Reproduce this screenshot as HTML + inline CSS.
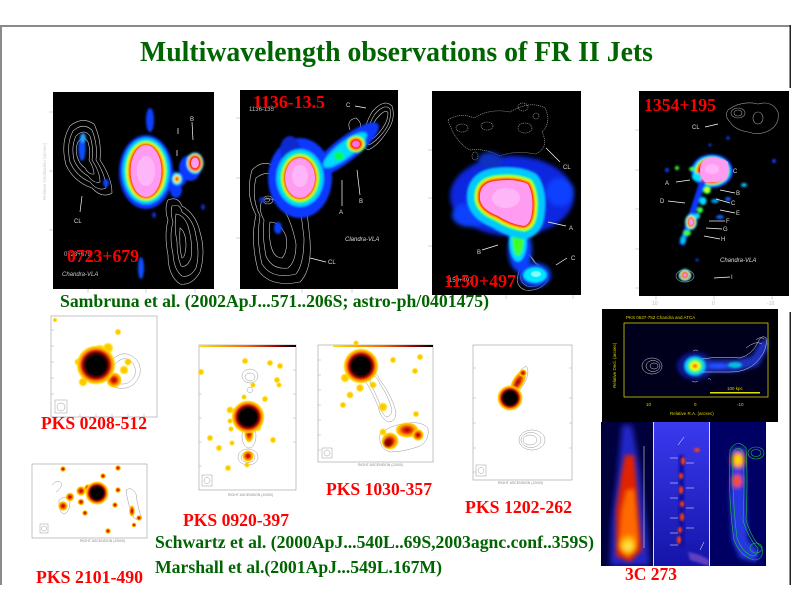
<!DOCTYPE html>
<html><head><meta charset="utf-8"><style>
html,body{margin:0;padding:0;background:#fff;}
svg{display:block;}
.t{font-family:"Liberation Serif",serif;font-weight:bold;}
.s{font-family:"Liberation Sans",sans-serif;}
</style></head><body>
<svg width="792" height="612" viewBox="0 0 792 612" xmlns="http://www.w3.org/2000/svg">
<defs>
<filter id="b1" x="-30%" y="-30%" width="160%" height="160%"><feGaussianBlur stdDeviation="1"/></filter>
<filter id="b2" x="-30%" y="-30%" width="160%" height="160%"><feGaussianBlur stdDeviation="2"/></filter>
<filter id="b3" x="-30%" y="-30%" width="160%" height="160%"><feGaussianBlur stdDeviation="3"/></filter>
<radialGradient id="hot"><stop offset="0" stop-color="#000"/><stop offset="0.48" stop-color="#000"/><stop offset="0.6" stop-color="#600000"/><stop offset="0.7" stop-color="#c82000"/><stop offset="0.8" stop-color="#ff8a00"/><stop offset="0.9" stop-color="#ffd000"/><stop offset="1" stop-color="#ffe600" stop-opacity="0"/></radialGradient>
<radialGradient id="h2"><stop offset="0" stop-color="#a00000"/><stop offset="0.35" stop-color="#e03000"/><stop offset="0.65" stop-color="#ffa000"/><stop offset="0.85" stop-color="#ffd000"/><stop offset="1" stop-color="#ffe600" stop-opacity="0"/></radialGradient>
<radialGradient id="ys"><stop offset="0" stop-color="#ffbf00"/><stop offset="0.6" stop-color="#ffd200"/><stop offset="1" stop-color="#ffe800" stop-opacity="0"/></radialGradient>
<linearGradient id="cb" x1="0" x2="1"><stop offset="0" stop-color="#ffe000"/><stop offset="0.5" stop-color="#ff6000"/><stop offset="0.8" stop-color="#a00000"/><stop offset="1" stop-color="#000"/></linearGradient>
<linearGradient id="bg2" x1="0" y1="0" x2="0" y2="1"><stop offset="0" stop-color="#3a3af0"/><stop offset="1" stop-color="#1414a8"/></linearGradient>
<clipPath id="c1"><rect x="53" y="92" width="161" height="197"/></clipPath>
<clipPath id="c2"><rect x="240" y="90" width="158" height="199"/></clipPath>
<clipPath id="c3"><rect x="432" y="91" width="149" height="204"/></clipPath>
<clipPath id="c4"><rect x="639" y="91" width="150" height="205"/></clipPath>
<clipPath id="c5"><rect x="602" y="309" width="176" height="113"/></clipPath>
<clipPath id="c6"><rect x="601" y="422" width="52" height="144"/></clipPath>
<clipPath id="c7"><rect x="654" y="422" width="55" height="144"/></clipPath>
<clipPath id="c8"><rect x="710" y="422" width="55" height="144"/></clipPath>
</defs>

<!-- frame -->
<rect x="0" y="25" width="791" height="2" fill="#8a8a8a"/>
<rect x="0" y="25" width="2" height="560" fill="#8a8a8a"/>
<rect x="789.5" y="25" width="1.5" height="63" fill="#222"/>
<rect x="789.5" y="312" width="1.5" height="273" fill="#222"/>

<text class="t" x="140" y="61" font-size="28" fill="#006400" textLength="513" lengthAdjust="spacingAndGlyphs">Multiwavelength observations of FR II Jets</text>

<!-- ============ Panel 1: 0723+679 ============ -->
<rect x="53" y="92" width="161" height="197" fill="#000"/>
<g stroke="#bbb" stroke-width="0.6">
<line x1="49" y1="112" x2="53" y2="112"/><line x1="49" y1="171" x2="53" y2="171"/><line x1="49" y1="230" x2="53" y2="230"/>
<line x1="88" y1="289" x2="88" y2="293"/><line x1="146" y1="289" x2="146" y2="293"/><line x1="195" y1="289" x2="195" y2="293"/>
</g>
<g clip-path="url(#c1)">
<g fill="none" stroke="#cfcfcf" stroke-width="0.6">
<path d="M70 126 Q82 116 94 124 Q102 140 100 160 Q112 178 112 193 Q102 199 92 188 Q74 182 66 165 Q60 142 70 126Z"/>
<path d="M73 131 Q83 122 92 130 Q98 145 96 160 Q106 176 106 188 Q98 192 90 182 Q76 176 70 162 Q66 144 73 131Z"/>
<path d="M76 136 Q84 128 90 136 Q94 148 92 160 Q100 172 100 182 Q94 184 88 176 Q78 170 74 160 Q71 146 76 136Z"/>
<path d="M78 142 Q84 135 88 142 Q91 152 89 160 Q94 168 94 174 Q89 175 85 168 Q79 164 77 156 Q75 148 78 142Z"/>
<path d="M168 200 Q178 196 182 206 Q196 214 200 232 Q206 252 200 272 Q192 286 180 284 Q168 276 168 255 Q164 235 168 220 Q164 208 168 200Z"/>
<path d="M172 206 Q180 203 182 212 Q194 220 196 236 Q200 254 196 268 Q190 278 182 276 Q174 270 173 254 Q169 236 173 222 Q170 212 172 206Z"/>
<path d="M176 214 Q184 215 188 226 Q193 242 191 258 Q187 268 181 266 Q177 256 177 242 Q174 228 176 214Z"/>
<path d="M180 228 Q186 232 186 246 Q185 258 182 258 Q179 248 180 228Z"/>
</g>
<g filter="url(#b1)">
<ellipse cx="150" cy="120" rx="4" ry="12" fill="#1040ff"/>
<ellipse cx="146" cy="172" rx="27" ry="37" fill="#0838ff"/>
<ellipse cx="170" cy="180" rx="16" ry="9" fill="#0838ff"/>
<ellipse cx="190" cy="168" rx="11" ry="13" fill="#0838ff"/>
<ellipse cx="176" cy="190" rx="6" ry="8" fill="#0838ff"/>
<ellipse cx="146" cy="171" rx="23.5" ry="33" fill="#00d8ff"/>
<ellipse cx="146" cy="171" rx="21" ry="30.5" fill="#00ff40"/>
<ellipse cx="146" cy="171" rx="19.5" ry="29" fill="#ffff00"/>
<ellipse cx="146" cy="171" rx="17.5" ry="27.5" fill="#ff0000"/>
<ellipse cx="177" cy="179" rx="5" ry="6" fill="#00e0ff"/>
<ellipse cx="177" cy="179" rx="3.5" ry="4" fill="#ffff00"/>
<ellipse cx="177" cy="179" rx="2" ry="2.5" fill="#ff2000"/>
<ellipse cx="195" cy="163" rx="8.5" ry="10.5" fill="#00e0ff"/>
<ellipse cx="195" cy="163" rx="7.5" ry="9" fill="#ffff00"/>
<ellipse cx="195" cy="163" rx="6.5" ry="8" fill="#ff0000"/>
<ellipse cx="82" cy="148" rx="3.5" ry="13" fill="#0a50ff"/>
<ellipse cx="83" cy="138" rx="3" ry="5" fill="#20a0ff"/>
<ellipse cx="106" cy="183" rx="3" ry="4" fill="#0a40ff"/>
<ellipse cx="141" cy="268" rx="3" ry="11" fill="#0a50ff"/>
<ellipse cx="203" cy="207" rx="2" ry="3" fill="#0a30c0"/>
<ellipse cx="154" cy="215" rx="2" ry="3" fill="#0a30c0"/>
</g>
<ellipse cx="146" cy="171" rx="15.5" ry="26" fill="#ff9cf2"/>
<ellipse cx="146" cy="171" rx="9" ry="15" fill="#ffb6f8"/>
<ellipse cx="195" cy="163" rx="4" ry="5.5" fill="#ff9cf2"/>
<g stroke="#fff" stroke-width="0.7" fill="none"><line x1="80" y1="212" x2="82" y2="196"/><line x1="192" y1="122" x2="193" y2="140"/><line x1="178" y1="128" x2="178" y2="134"/><line x1="177" y1="150" x2="177" y2="156"/></g>
<text class="s" x="74" y="223" font-size="6" fill="#ddd">CL</text>
<text class="s" x="190" y="121" font-size="6" fill="#ddd">B</text>
<text class="s" x="64" y="256" font-size="6" fill="#bbb">0723+679</text>
<text class="s" x="62" y="276" font-size="6" fill="#ccc" font-style="italic">Chandra-VLA</text>
</g>
<text class="s" transform="translate(46,200) rotate(-90)" font-size="4.5" fill="#ccc">Relative Declination (arcsec)</text>

<!-- ============ Panel 2: 1136-13.5 ============ -->
<rect x="240" y="90" width="158" height="199" fill="#000"/>
<g stroke="#bbb" stroke-width="0.6">
<line x1="236" y1="118" x2="240" y2="118"/><line x1="236" y1="178" x2="240" y2="178"/><line x1="236" y1="238" x2="240" y2="238"/>
<line x1="302" y1="289" x2="302" y2="293"/><line x1="352" y1="289" x2="352" y2="293"/>
</g>
<g clip-path="url(#c2)">
<g fill="none" stroke="#cfcfcf" stroke-width="0.6">
<path d="M252 170 Q262 160 272 165 Q290 150 300 160 Q306 200 310 240 Q312 270 300 282 Q270 288 258 270 Q250 240 256 215 Q245 195 252 170Z"/>
<path d="M256 178 Q266 170 276 176 Q290 166 296 176 Q300 205 304 238 Q304 264 296 274 Q272 280 262 264 Q256 240 260 216 Q251 198 256 178Z"/>
<path d="M262 200 Q274 196 282 206 Q292 222 296 244 Q296 262 288 268 Q272 270 266 256 Q262 236 264 220 Q258 210 262 200Z"/>
<path d="M270 222 Q280 222 286 236 Q288 252 282 258 Q274 258 271 246 Q268 232 270 222Z"/>
<ellipse cx="268" cy="200" rx="5" ry="4"/>
<ellipse cx="267" cy="200" rx="2.5" ry="2"/>
<path d="M372 112 Q384 98 392 106 Q396 118 388 130 Q378 146 368 150 Q360 146 364 134 Q366 122 372 112Z"/>
<path d="M375 114 Q385 103 390 109 Q392 120 385 130 Q377 141 369 145 Q365 140 368 132 Q370 121 375 114Z"/>
<path d="M378 117 Q386 108 388 113 Q388 121 382 129 Q376 137 372 139 Q370 134 372 128 Q374 121 378 117Z"/>
<path d="M350 130 Q346 120 356 118 Q364 124 358 132"/>
</g>
<g filter="url(#b1)">
<ellipse cx="300" cy="178" rx="32" ry="40" fill="#0838ff"/>
<ellipse cx="345" cy="150" rx="42" ry="12" transform="rotate(-38 345 150)" fill="#0838ff"/>
<ellipse cx="290" cy="150" rx="10" ry="14" fill="#0a2ad0"/>
<ellipse cx="278" cy="228" rx="4" ry="6" fill="#0a40ff"/>
<ellipse cx="262" cy="200" rx="3" ry="3" fill="#0a30c0"/>
<ellipse cx="345" cy="150" rx="27" ry="8" transform="rotate(-38 345 150)" fill="#00d8ff"/>
<ellipse cx="339" cy="156" rx="5" ry="4" fill="#00ff40"/>
<ellipse cx="356" cy="144" rx="9.5" ry="8.5" fill="#00ff40"/>
<ellipse cx="356" cy="144" rx="8" ry="7" fill="#ffff00"/>
<ellipse cx="356" cy="144" rx="6.5" ry="6" fill="#ff0000"/>
<ellipse cx="300" cy="178" rx="23.5" ry="28.5" fill="#00d8ff"/>
<ellipse cx="300" cy="178" rx="20" ry="25" fill="#00ff40"/>
<ellipse cx="300" cy="178" rx="18" ry="23" fill="#ffff00"/>
<ellipse cx="300" cy="178" rx="16.5" ry="21.5" fill="#ff0000"/>
</g>
<ellipse cx="300" cy="178" rx="15" ry="20" fill="#ff9cf2"/>
<ellipse cx="300" cy="176" rx="8" ry="11" fill="#ffb6f8"/>
<ellipse cx="356" cy="144" rx="4" ry="3.5" fill="#ff70e0"/>
<g stroke="#fff" stroke-width="0.7" fill="none"><line x1="342" y1="206" x2="342" y2="180"/><line x1="360" y1="195" x2="357" y2="170"/><line x1="355" y1="106" x2="366" y2="108"/><line x1="310" y1="258" x2="326" y2="262"/></g>
<text class="s" x="339" y="214" font-size="6" fill="#ddd">A</text>
<text class="s" x="359" y="203" font-size="6" fill="#ddd">B</text>
<text class="s" x="346" y="107" font-size="6" fill="#ddd">C</text>
<text class="s" x="328" y="264" font-size="6" fill="#ddd">CL</text>
<text class="s" x="345" y="241" font-size="6" fill="#ddd" font-style="italic">Clandra-VLA</text>
<text class="s" x="249" y="111" font-size="6" fill="#bbb">1136-135</text>
</g>

<!-- ============ Panel 3: 1150+497 ============ -->
<rect x="432" y="91" width="149" height="204" fill="#000"/>
<g stroke="#bbb" stroke-width="0.6">
<line x1="428" y1="150" x2="432" y2="150"/><line x1="428" y1="198" x2="432" y2="198"/><line x1="428" y1="246" x2="432" y2="246"/>
<line x1="506" y1="295" x2="506" y2="299"/><line x1="573" y1="295" x2="573" y2="299"/>
</g>
<g clip-path="url(#c3)">
<g fill="none" stroke="#aaa" stroke-width="0.6" stroke-dasharray="1.2 0.8">
<path d="M448 120 Q460 112 474 118 Q490 108 510 112 Q530 100 545 108 Q552 122 542 132 Q550 148 535 154 Q515 150 500 156 Q485 148 470 150 Q455 142 448 120Z"/>
<ellipse cx="462" cy="128" rx="6" ry="4"/><ellipse cx="523" cy="107" rx="5" ry="4"/><ellipse cx="536" cy="116" rx="3" ry="3"/>
<ellipse cx="525" cy="128" rx="7" ry="5"/><ellipse cx="487" cy="126" rx="6" ry="4"/><ellipse cx="475" cy="156" rx="3" ry="4"/>
</g>
<g fill="none" stroke="#bbb" stroke-width="0.6">
<path d="M519 245 Q530 254 534 262 Q546 268 548 280 Q540 292 525 290 Q515 286 518 275 Q522 262 515 250Z"/>
<path d="M522 248 Q532 256 536 264 Q544 270 544 280 Q538 288 527 286 Q519 282 521 274 Q525 262 519 252Z"/>
</g>
<g filter="url(#b2)">
<ellipse cx="512" cy="196" rx="62" ry="40" fill="#0828e0"/>
<ellipse cx="470" cy="215" rx="18" ry="12" fill="#0a40ff"/>
<ellipse cx="560" cy="192" rx="14" ry="14" fill="#0a40ff"/>
<ellipse cx="520" cy="250" rx="12" ry="22" fill="#0a40ff"/>
<ellipse cx="535" cy="275" rx="16" ry="12" fill="#0a40ff"/>
<ellipse cx="490" cy="160" rx="12" ry="8" fill="#0a30c0"/>
</g>
<g filter="url(#b1)">
<ellipse cx="518" cy="242" rx="9" ry="20" fill="#00d8ff"/>
<ellipse cx="535" cy="275" rx="12" ry="8" fill="#00e8ff"/>
<ellipse cx="518" cy="240" rx="5.5" ry="16" fill="#40ff20"/>
</g>
<g filter="url(#b1)" stroke-linejoin="round">
<path d="M480 200 Q478 184 494 181 Q515 178 528 184 Q534 195 532 212 Q531 224 524 226 Q510 224 498 216 Q482 210 480 200Z" fill="#00c8ff" stroke="#00c8ff" stroke-width="26"/>
<path d="M480 200 Q478 184 494 181 Q515 178 528 184 Q534 195 532 212 Q531 224 524 226 Q510 224 498 216 Q482 210 480 200Z" fill="#00ff40" stroke="#00ff40" stroke-width="12"/>
<path d="M480 200 Q478 184 494 181 Q515 178 528 184 Q534 195 532 212 Q531 224 524 226 Q510 224 498 216 Q482 210 480 200Z" fill="#ffff00" stroke="#ffff00" stroke-width="8"/>
<path d="M480 200 Q478 184 494 181 Q515 178 528 184 Q534 195 532 212 Q531 224 524 226 Q510 224 498 216 Q482 210 480 200Z" fill="#ff0000" stroke="#ff0000" stroke-width="4.5"/>
</g>
<path d="M480 200 Q478 184 494 181 Q515 178 528 184 Q534 195 532 212 Q531 224 524 226 Q510 224 498 216 Q482 210 480 200Z" fill="#ff9cf2"/>
<ellipse cx="506" cy="198" rx="14" ry="10" fill="#ffb6f8"/>
<ellipse cx="536" cy="274" rx="5" ry="3" fill="#80ffff"/>
<g stroke="#fff" stroke-width="0.7" fill="none"><line x1="546" y1="148" x2="560" y2="162"/><line x1="548" y1="222" x2="566" y2="226"/><line x1="482" y1="250" x2="498" y2="245"/><line x1="556" y1="265" x2="567" y2="258"/></g>
<text class="s" x="563" y="169" font-size="6" fill="#ddd">CL</text>
<text class="s" x="569" y="230" font-size="6" fill="#ddd">A</text>
<text class="s" x="477" y="254" font-size="6" fill="#ddd">B</text>
<text class="s" x="571" y="260" font-size="6" fill="#ddd">C</text>
<text class="s" x="446" y="282" font-size="6" fill="#bbb">1150+497</text>
</g>

<!-- ============ Panel 4: 1354+195 ============ -->
<rect x="639" y="91" width="150" height="205" fill="#000"/>
<g stroke="#bbb" stroke-width="0.6">
<line x1="635" y1="130" x2="639" y2="130"/><line x1="635" y1="170" x2="639" y2="170"/><line x1="635" y1="209" x2="639" y2="209"/><line x1="635" y1="249" x2="639" y2="249"/><line x1="635" y1="288" x2="639" y2="288"/>
<line x1="656" y1="296" x2="656" y2="300"/><line x1="714" y1="296" x2="714" y2="300"/><line x1="772" y1="296" x2="772" y2="300"/>
</g>
<text class="s" x="652" y="305" font-size="5" fill="#bbb">10</text>
<text class="s" x="712" y="305" font-size="5" fill="#bbb">0</text>
<text class="s" x="767" y="305" font-size="5" fill="#bbb">-10</text>
<g clip-path="url(#c4)">
<g fill="none" stroke="#999" stroke-width="0.6">
<path d="M728 110 Q742 100 758 104 Q772 100 778 112 Q780 124 770 130 Q760 136 748 132 Q735 130 730 122 Q724 116 728 110Z"/>
<ellipse cx="738" cy="113" rx="7" ry="5"/><ellipse cx="738" cy="113" rx="4" ry="3"/><ellipse cx="758" cy="118" rx="5" ry="6"/>
<ellipse cx="685" cy="276" rx="9" ry="6"/><ellipse cx="685" cy="276" rx="6" ry="4"/>
</g>
<g filter="url(#b1)">
<ellipse cx="712" cy="171" rx="21" ry="17" fill="#0838ff"/>
<ellipse cx="712" cy="171" rx="18.5" ry="15" fill="#00e0ff"/>
<ellipse cx="712" cy="171" rx="17" ry="14" fill="#00ff40"/>
<ellipse cx="712" cy="171" rx="16" ry="13.3" fill="#ffff00"/>
<ellipse cx="712" cy="171" rx="15" ry="12.6" fill="#ff0000"/>
<path d="M706 182 L684 246 L679 244 L700 180Z" fill="#0838ff"/>
<ellipse cx="707" cy="190" rx="4" ry="4" fill="#00ff40"/>
<ellipse cx="707" cy="190" rx="2" ry="2" fill="#ffff00"/>
<ellipse cx="703" cy="201" rx="3.5" ry="4" fill="#00e0ff"/>
<ellipse cx="700" cy="210" rx="3" ry="3" fill="#40ff40"/>
<ellipse cx="697" cy="216" rx="3" ry="3" fill="#00e0ff"/>
<ellipse cx="691" cy="222" rx="6" ry="8" fill="#00e0ff"/>
<ellipse cx="691" cy="222" rx="4.5" ry="6" fill="#ffff00"/>
<ellipse cx="691" cy="222" rx="3.5" ry="5" fill="#ff0000"/>
<ellipse cx="687" cy="233" rx="4" ry="3" fill="#40ff40"/>
<ellipse cx="683" cy="240" rx="3" ry="4" fill="#00c0ff"/>
<ellipse cx="685" cy="275" rx="6" ry="6" fill="#00e0ff"/>
<ellipse cx="685" cy="275" rx="4.5" ry="4.5" fill="#ffff00"/>
<ellipse cx="685" cy="275" rx="3.5" ry="3.5" fill="#ff0000"/>
<ellipse cx="697" cy="177" rx="5" ry="4" fill="#00e0ff"/>
<ellipse cx="692" cy="169" rx="3" ry="2" fill="#40ff40"/>
<ellipse cx="677" cy="168" rx="2" ry="2" fill="#40ff40"/>
<ellipse cx="667" cy="170" rx="2" ry="2" fill="#0a40ff"/>
<ellipse cx="744" cy="185" rx="3" ry="2" fill="#00c0ff"/>
<ellipse cx="715" cy="201" rx="4" ry="2" fill="#00a0ff"/>
<ellipse cx="720" cy="217" rx="4" ry="2" fill="#0a60ff"/>
<ellipse cx="728" cy="199" rx="3" ry="2" fill="#0a60ff"/>
<ellipse cx="774" cy="161" rx="2" ry="2" fill="#0a40ff"/>
<ellipse cx="728" cy="138" rx="1.5" ry="2" fill="#0a40ff"/>
<ellipse cx="710" cy="145" rx="1.5" ry="1.5" fill="#0a40ff"/>
<ellipse cx="697" cy="260" rx="1.5" ry="1.5" fill="#0a40ff"/>
</g>
<path d="M700 170 Q700 160 710 158 Q722 157 728 162 Q730 172 726 180 Q716 183 705 182 Q700 178 700 170Z" fill="#ff9cf2"/>
<ellipse cx="712" cy="169" rx="7" ry="5" fill="#ffb6f8"/>
<ellipse cx="691" cy="222" rx="2.2" ry="3.5" fill="#ff90f0"/>
<ellipse cx="685" cy="275" rx="1.8" ry="1.8" fill="#ff90f0"/>
<g stroke="#fff" stroke-width="0.7" fill="none">
<line x1="705" y1="127" x2="718" y2="124"/><line x1="676" y1="182" x2="690" y2="180"/><line x1="735" y1="193" x2="720" y2="190"/><line x1="730" y1="203" x2="716" y2="199"/>
<line x1="668" y1="201" x2="685" y2="203"/><line x1="735" y1="213" x2="720" y2="210"/><line x1="725" y1="221" x2="709" y2="221"/><line x1="722" y1="229" x2="706" y2="228"/><line x1="720" y1="239" x2="704" y2="236"/><line x1="730" y1="277" x2="714" y2="278"/>
</g>
<g class="s" font-size="6" fill="#ddd">
<text x="692" y="129">CL</text><text x="665" y="185">A</text><text x="736" y="195">B</text><text x="731" y="205">C</text><text x="660" y="203">D</text><text x="736" y="215">E</text><text x="726" y="223">F</text><text x="723" y="231">G</text><text x="721" y="241">H</text><text x="731" y="279">I</text><text x="733" y="173">C</text>
<text x="720" y="262" font-style="italic">Chandra-VLA</text>
</g>
</g>

<!-- red labels top -->
<g class="t" fill="#ff0000" font-size="18">
<text x="67" y="262" textLength="72" lengthAdjust="spacingAndGlyphs">0723+679</text>
<text x="253" y="108" textLength="72" lengthAdjust="spacingAndGlyphs">1136-13.5</text>
<text x="444" y="287" textLength="72" lengthAdjust="spacingAndGlyphs">1150+497</text>
<text x="644" y="111" textLength="72" lengthAdjust="spacingAndGlyphs">1354+195</text>
</g>

<text class="t" x="60" y="307" font-size="18" fill="#006400" textLength="429" lengthAdjust="spacingAndGlyphs">Sambruna et al. (2002ApJ...571..206S; astro-ph/0401475)</text>

<!-- ============ PKS 0208-512 ============ -->
<rect x="51" y="316" width="106" height="101" fill="#fff" stroke="#aaa" stroke-width="0.7"/>
<g stroke="#aaa" stroke-width="0.5">
<line x1="51" y1="330" x2="54" y2="330"/><line x1="51" y1="346" x2="54" y2="346"/><line x1="51" y1="362" x2="54" y2="362"/><line x1="51" y1="378" x2="54" y2="378"/><line x1="51" y1="394" x2="54" y2="394"/>
<line x1="80" y1="417" x2="80" y2="414"/><line x1="96" y1="417" x2="96" y2="414"/><line x1="112" y1="417" x2="112" y2="414"/><line x1="128" y1="417" x2="128" y2="414"/><line x1="144" y1="417" x2="144" y2="414"/>
</g>
<g fill="none" stroke="#999" stroke-width="0.5">
<path d="M112 360 Q122 350 132 356 Q142 362 140 374 Q136 386 126 388 Q114 390 108 382 Q104 370 112 360Z"/>
<path d="M115 364 Q122 356 130 360 Q137 366 135 375 Q131 383 124 384 Q115 385 112 378 Q110 370 115 364Z"/>
<rect x="55" y="400" width="12" height="13"/><circle cx="61" cy="407" r="4"/>
</g>
<g>
<circle cx="108" cy="348" r="6" fill="url(#ys)"/><circle cx="100" cy="350" r="6" fill="url(#ys)"/>
<circle cx="83" cy="382" r="5" fill="url(#ys)"/><circle cx="124" cy="370" r="5" fill="url(#ys)"/><circle cx="128" cy="362" r="4" fill="url(#ys)"/>
<circle cx="118" cy="332" r="3.5" fill="url(#ys)"/><circle cx="55" cy="320" r="2.5" fill="url(#ys)"/><circle cx="78" cy="362" r="4" fill="url(#ys)"/>
<circle cx="114" cy="380" r="8" fill="url(#h2)"/>
<circle cx="96" cy="365" r="20" fill="url(#hot)"/>
</g>

<!-- ============ PKS 2101-490 ============ -->
<rect x="32" y="464" width="115" height="74" fill="#fff" stroke="#aaa" stroke-width="0.7"/>
<g fill="none" stroke="#999" stroke-width="0.5">
<path d="M52 485 Q58 478 62 484 Q60 490 56 492"/>
<path d="M59 500 Q66 494 70 502 Q70 512 64 514 Q58 512 59 500Z"/>
<path d="M126 490 Q132 486 136 494 Q138 510 142 518 Q140 522 134 518 Q128 506 126 490Z"/>
<rect x="40" y="524" width="8" height="9"/><circle cx="44" cy="528.5" r="2.5"/>
</g>
<g>
<circle cx="63" cy="469" r="3" fill="url(#h2)"/><circle cx="118" cy="468" r="3" fill="url(#h2)"/>
<circle cx="81" cy="491" r="5" fill="url(#h2)"/><circle cx="88" cy="488" r="4" fill="url(#h2)"/><circle cx="70" cy="497" r="4.5" fill="url(#h2)"/>
<circle cx="63" cy="506" r="5" fill="url(#h2)"/><circle cx="81" cy="502" r="3.5" fill="url(#h2)"/><circle cx="85" cy="513" r="3" fill="url(#h2)"/>
<circle cx="103" cy="476" r="3" fill="url(#h2)"/><circle cx="118" cy="490" r="3" fill="url(#h2)"/><circle cx="115" cy="505" r="3" fill="url(#h2)"/>
<circle cx="108" cy="531" r="3" fill="url(#h2)"/><ellipse cx="132" cy="511" rx="3" ry="6" fill="url(#h2)"/><circle cx="139" cy="518" r="3" fill="url(#h2)"/><circle cx="134" cy="525" r="2.5" fill="url(#h2)"/>
<circle cx="97" cy="493" r="12" fill="url(#hot)"/>
</g>
<text class="s" x="80" y="542" font-size="3.5" fill="#888">RIGHT ASCENSION (J2000)</text>

<!-- ============ PKS 0920-397 ============ -->
<rect x="199" y="345" width="97" height="145" fill="#fff" stroke="#aaa" stroke-width="0.7"/>
<rect x="199" y="345" width="97" height="2" fill="url(#cb)"/>
<g stroke="#aaa" stroke-width="0.5">
<line x1="199" y1="370" x2="202" y2="370"/><line x1="199" y1="394" x2="202" y2="394"/><line x1="199" y1="418" x2="202" y2="418"/><line x1="199" y1="442" x2="202" y2="442"/><line x1="199" y1="466" x2="202" y2="466"/>
<line x1="293" y1="370" x2="296" y2="370"/><line x1="293" y1="394" x2="296" y2="394"/><line x1="293" y1="418" x2="296" y2="418"/><line x1="293" y1="442" x2="296" y2="442"/>
</g>
<g fill="none" stroke="#999" stroke-width="0.5">
<ellipse cx="250" cy="376" rx="8" ry="7"/><ellipse cx="250" cy="377" rx="5" ry="4"/><ellipse cx="250" cy="390" rx="3" ry="2.5"/>
<ellipse cx="248" cy="457" rx="10" ry="8"/><ellipse cx="248" cy="457" rx="7" ry="5.5"/><ellipse cx="249" cy="436" rx="7" ry="12"/>
<rect x="202" y="475" width="10" height="11"/><circle cx="207" cy="480.5" r="3"/>
</g>
<g>
<circle cx="201" cy="372" r="3.5" fill="url(#ys)"/><circle cx="245" cy="361" r="3.5" fill="url(#ys)"/><circle cx="270" cy="363" r="3.5" fill="url(#ys)"/><circle cx="280" cy="366" r="3.5" fill="url(#ys)"/>
<circle cx="253" cy="385" r="3" fill="url(#ys)"/><circle cx="244" cy="397" r="3" fill="url(#ys)"/><circle cx="265" cy="399" r="3.5" fill="url(#ys)"/><circle cx="277" cy="380" r="3.5" fill="url(#ys)"/><circle cx="279" cy="385" r="3" fill="url(#ys)"/>
<circle cx="230" cy="410" r="4" fill="url(#ys)"/><circle cx="235" cy="411" r="3.5" fill="url(#ys)"/><circle cx="230" cy="421" r="3" fill="url(#ys)"/><circle cx="231" cy="429" r="3" fill="url(#ys)"/>
<circle cx="210" cy="438" r="3.5" fill="url(#ys)"/><circle cx="219" cy="448" r="3.5" fill="url(#ys)"/><circle cx="232" cy="443" r="3" fill="url(#ys)"/><circle cx="273" cy="440" r="3.5" fill="url(#ys)"/>
<circle cx="228" cy="468" r="3.5" fill="url(#ys)"/><circle cx="247" cy="465" r="3" fill="url(#ys)"/><circle cx="258" cy="428" r="3.5" fill="url(#ys)"/>
<ellipse cx="249" cy="433" rx="5" ry="10" fill="url(#h2)"/>
<circle cx="248" cy="456" r="6" fill="url(#h2)"/>
<circle cx="248" cy="417" r="17" fill="url(#hot)"/>
</g>
<text class="s" x="228" y="496" font-size="3.5" fill="#888">RIGHT ASCENSION (J2000)</text>

<!-- ============ PKS 1030-357 ============ -->
<rect x="318" y="345" width="115" height="117" fill="#fff" stroke="#aaa" stroke-width="0.7"/>
<rect x="333" y="345" width="100" height="2" fill="url(#cb)"/>
<g stroke="#aaa" stroke-width="0.5">
<line x1="318" y1="360" x2="321" y2="360"/><line x1="318" y1="375" x2="321" y2="375"/><line x1="318" y1="390" x2="321" y2="390"/><line x1="318" y1="405" x2="321" y2="405"/><line x1="318" y1="420" x2="321" y2="420"/><line x1="318" y1="435" x2="321" y2="435"/><line x1="318" y1="450" x2="321" y2="450"/>
</g>
<g fill="none" stroke="#999" stroke-width="0.5">
<path d="M368 372 Q376 370 380 380 Q392 396 396 412 Q396 422 388 422 Q380 418 378 406 Q372 392 366 382Z"/>
<path d="M371 376 Q377 375 380 384 Q389 397 392 410 Q391 417 386 417 Q381 413 380 404 Q375 392 370 383Z"/>
<path d="M380 434 Q390 425 404 424 Q420 420 428 428 Q430 440 420 446 Q404 452 390 452 Q378 448 380 434Z"/>
<rect x="322" y="448" width="10" height="10"/><circle cx="327" cy="453" r="3"/>
</g>
<g>
<circle cx="356" cy="343" r="3" fill="url(#ys)"/><circle cx="345" cy="378" r="5" fill="url(#ys)"/><circle cx="350" cy="395" r="4" fill="url(#ys)"/><circle cx="343" cy="405" r="3.5" fill="url(#ys)"/>
<circle cx="360" cy="388" r="4.5" fill="url(#ys)"/><circle cx="373" cy="385" r="4" fill="url(#ys)"/><circle cx="383" cy="407" r="5" fill="url(#ys)"/>
<circle cx="393" cy="360" r="3.5" fill="url(#ys)"/><circle cx="420" cy="357" r="3.5" fill="url(#ys)"/><circle cx="415" cy="371" r="3.5" fill="url(#ys)"/><circle cx="416" cy="414" r="3.5" fill="url(#ys)"/>
<circle cx="383" cy="432" r="4" fill="url(#ys)"/>
<ellipse cx="407" cy="430" rx="12" ry="8" fill="url(#h2)"/>
<circle cx="418" cy="435" r="6" fill="url(#h2)"/>
<circle cx="390" cy="441" r="9" fill="url(#h2)"/>
<circle cx="388" cy="443" r="4" fill="#8a0000" filter="url(#b1)"/>
<circle cx="361" cy="366" r="18" fill="url(#hot)"/>
</g>
<text class="s" x="358" y="466" font-size="3.5" fill="#888">RIGHT ASCENSION (J2000)</text>

<!-- ============ PKS 1202-262 ============ -->
<rect x="473" y="345" width="99" height="135" fill="#fff" stroke="#aaa" stroke-width="0.7"/>
<g stroke="#aaa" stroke-width="0.5">
<line x1="473" y1="368" x2="476" y2="368"/><line x1="473" y1="398" x2="476" y2="398"/><line x1="473" y1="423" x2="476" y2="423"/><line x1="473" y1="448" x2="476" y2="448"/><line x1="473" y1="472" x2="476" y2="472"/>
<line x1="569" y1="368" x2="572" y2="368"/><line x1="569" y1="398" x2="572" y2="398"/><line x1="569" y1="423" x2="572" y2="423"/><line x1="569" y1="448" x2="572" y2="448"/>
</g>
<g fill="none" stroke="#999" stroke-width="0.5">
<ellipse cx="532" cy="440" rx="13" ry="10"/><ellipse cx="531" cy="440" rx="10" ry="7.5"/><ellipse cx="530" cy="440" rx="7" ry="5"/>
<rect x="476" y="465" width="10" height="11"/><circle cx="481" cy="470.5" r="3"/>
<path d="M514 384 Q518 370 526 366 Q530 370 526 380 Q520 392 514 396"/>
</g>
<g>
<ellipse cx="518" cy="382" rx="6" ry="14" transform="rotate(30 518 382)" fill="url(#h2)"/>
<circle cx="523" cy="373" r="4" fill="url(#h2)"/>
<circle cx="510" cy="398" r="13" fill="url(#hot)"/>
</g>
<text class="s" x="498" y="484" font-size="3.5" fill="#888">RIGHT ASCENSION (J2000)</text>

<!-- ============ PKS 0637-752 ============ -->
<rect x="602" y="309" width="176" height="113" fill="#000"/>
<g clip-path="url(#c5)">
<rect x="624" y="323" width="144" height="74" fill="#00001c"/>
<g filter="url(#b2)">
<ellipse cx="695" cy="366" rx="18" ry="14" fill="#0a1890"/>
<path d="M700 360 L735 360 L752 356 L760 342 L768 338 L768 348 L758 366 L735 372 L700 372Z" fill="#1a30c0"/>
</g>
<g filter="url(#b1)">
<ellipse cx="695" cy="366" rx="11" ry="10" fill="#00c0ff"/>
<ellipse cx="695" cy="366" rx="7.5" ry="7" fill="#40ff60"/>
<ellipse cx="695" cy="366" rx="5" ry="4.5" fill="#ffff00"/>
<ellipse cx="695" cy="366" rx="2.5" ry="2" fill="#ff4000"/>
<ellipse cx="735" cy="365" rx="7" ry="3" fill="#00c0e0"/>
<ellipse cx="718" cy="366" rx="10" ry="2.5" fill="#2050ff"/>
</g>
<g fill="none" stroke="#ddd" stroke-width="0.5">
<ellipse cx="652" cy="366" rx="10" ry="8"/><ellipse cx="653" cy="366" rx="7" ry="5.5"/><ellipse cx="654" cy="366" rx="4" ry="3"/>
<path d="M702 359 Q720 356 740 358 Q752 355 758 342 Q762 334 766 338 Q768 348 760 358 Q750 372 730 372 Q712 372 702 372"/>
<path d="M756 340 Q760 336 764 339"/><path d="M746 348 Q756 340 762 344"/>
<path d="M693 351 Q696 349 698 351"/><path d="M692 381 Q695 383 698 381"/><path d="M708 379 Q710 378 711 380"/>
</g>
<rect x="624" y="323" width="144" height="74" fill="none" stroke="#d8d000" stroke-width="0.8"/>
<rect x="710" y="392" width="50" height="1.5" fill="#e0e000"/>
<g class="s" fill="#d8d000" font-size="4.5">
<text x="626" y="319">PKS 0637-752  Chandra and ATCA</text>
<text x="727" y="390">100 kpc</text>
<text x="646" y="406">10</text><text x="694" y="406">0</text><text x="737" y="406">-10</text>
<text x="670" y="415">Relative R.A. (arcsec)</text>
<text transform="translate(616,388) rotate(-90)">Relative Decl. (arcsec)</text>
</g>
</g>

<!-- ============ 3C 273 ============ -->
<rect x="601" y="422" width="165" height="144" fill="#00003a"/>
<g clip-path="url(#c6)">
<rect x="601" y="422" width="52" height="144" fill="#00003c"/>
<g filter="url(#b3)">
<path d="M622 425 L632 425 L640 470 L648 540 L650 566 L610 566 L612 520 L618 470Z" fill="#2028c8"/>
</g>
<g filter="url(#b2)">
<path d="M625 455 L634 455 L638 500 L642 550 L630 562 L616 556 L616 510 L622 470Z" fill="#e02000"/>
<path d="M627 490 L634 490 L638 540 L628 558 L619 548 L622 510Z" fill="#ff6a00"/>
<ellipse cx="628" cy="545" rx="8" ry="9" fill="#ffb000"/>
<ellipse cx="628" cy="546" rx="5" ry="5" fill="#ffe040"/>
</g>
<line x1="644" y1="446" x2="644" y2="548" stroke="#ddd" stroke-width="0.6"/>
</g>
<rect x="653" y="422" width="1.2" height="144" fill="#ddd"/>
<g clip-path="url(#c7)">
<rect x="654" y="422" width="55" height="144" fill="url(#bg2)"/>
<g filter="url(#b1)">
<rect x="679" y="455" width="5" height="92" fill="#1010a0"/>
<path d="M688 552 Q700 554 709 560 L709 566 L690 560Z" fill="#6040c0"/>
</g>
<g filter="url(#b1)" fill="#ff4010">
<ellipse cx="683" cy="461" rx="2" ry="4"/><ellipse cx="681" cy="476" rx="2" ry="3"/><ellipse cx="681" cy="490" rx="2" ry="4"/>
<ellipse cx="682" cy="504" rx="2" ry="3"/><ellipse cx="682" cy="517" rx="2" ry="4"/><ellipse cx="680" cy="530" rx="2" ry="3"/><ellipse cx="679" cy="540" rx="2" ry="4"/>
<ellipse cx="697" cy="450" rx="3" ry="2"/>
</g>
<g stroke="#fff" stroke-width="0.5">
<line x1="670" y1="458" x2="678" y2="458"/><line x1="694" y1="463" x2="686" y2="463"/><line x1="670" y1="483" x2="678" y2="483"/><line x1="694" y1="488" x2="686" y2="488"/>
<line x1="670" y1="498" x2="678" y2="498"/><line x1="694" y1="508" x2="686" y2="508"/><line x1="670" y1="518" x2="678" y2="518"/><line x1="694" y1="528" x2="686" y2="528"/>
<line x1="670" y1="533" x2="678" y2="533"/><line x1="670" y1="545" x2="678" y2="545"/><line x1="678" y1="445" x2="684" y2="437"/><line x1="700" y1="550" x2="704" y2="542"/>
</g>
</g>
<rect x="709" y="422" width="1.2" height="144" fill="#ddd"/>
<g clip-path="url(#c8)">
<rect x="710" y="422" width="55" height="144" fill="#000064"/>
<g filter="url(#b2)">
<path d="M732 448 L745 448 L746 500 L748 540 L760 552 L756 562 L740 558 L732 540 L730 500Z" fill="#2838e0"/>
<ellipse cx="738" cy="460" rx="7" ry="8" fill="#ff8000"/>
<ellipse cx="738" cy="460" rx="4" ry="5" fill="#ffe000"/>
<ellipse cx="737" cy="481" rx="5" ry="6" fill="#ff5000"/>
</g>
<g fill="none" stroke="#20c040" stroke-width="0.6">
<path d="M730 450 Q737 438 746 448 Q748 480 746 520 Q752 540 762 548 Q764 560 754 560 Q740 556 734 540 Q728 500 730 450Z"/>
<path d="M733 453 Q738 444 743 452 Q745 480 743 520 Q748 538 758 548 Q758 556 752 556 Q742 552 737 538 Q732 500 733 453Z"/>
<ellipse cx="756" cy="453" rx="8" ry="6"/><ellipse cx="756" cy="453" rx="5" ry="3.5"/><ellipse cx="756" cy="548" rx="6" ry="5"/>
</g>
</g>

<!-- bottom labels -->
<g class="t" fill="#ff0000" font-size="18">
<text x="41" y="429" textLength="106" lengthAdjust="spacingAndGlyphs">PKS 0208-512</text>
<text x="36" y="583" textLength="107" lengthAdjust="spacingAndGlyphs">PKS 2101-490</text>
<text x="183" y="526" textLength="106" lengthAdjust="spacingAndGlyphs">PKS 0920-397</text>
<text x="326" y="495" textLength="106" lengthAdjust="spacingAndGlyphs">PKS 1030-357</text>
<text x="465" y="513" textLength="107" lengthAdjust="spacingAndGlyphs">PKS 1202-262</text>
<text x="625" y="580" textLength="52" lengthAdjust="spacingAndGlyphs">3C 273</text>
</g>
<g class="t" fill="#006400" font-size="18">
<text x="155" y="548" textLength="439" lengthAdjust="spacingAndGlyphs">Schwartz et al. (2000ApJ...540L..69S,2003agnc.conf..359S)</text>
<text x="155" y="573" textLength="287" lengthAdjust="spacingAndGlyphs">Marshall et al.(2001ApJ...549L.167M)</text>
</g>
</svg>
</body></html>
